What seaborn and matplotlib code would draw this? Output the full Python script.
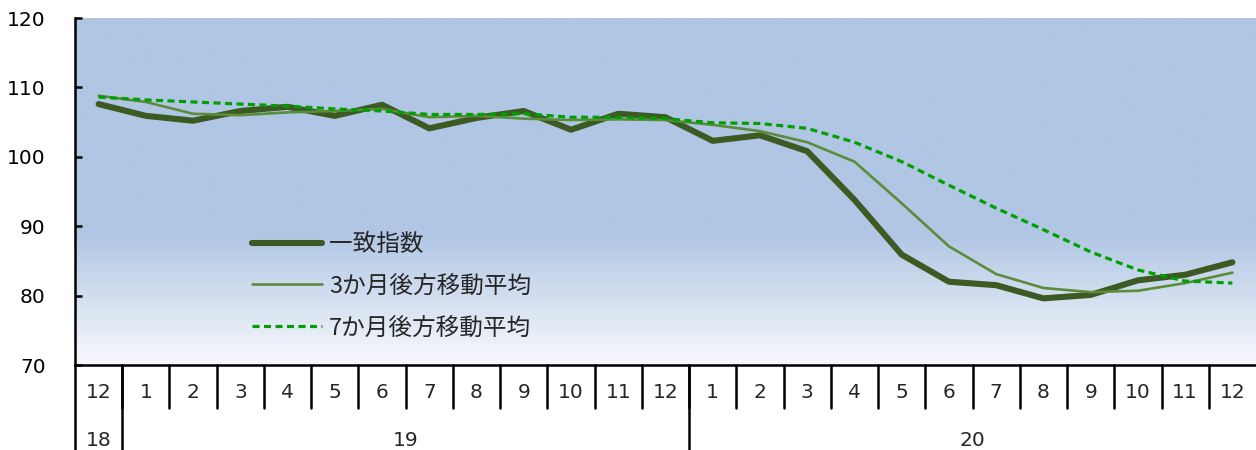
import numpy as np
import pandas as pd
import matplotlib
matplotlib.use("Agg")
import matplotlib.pyplot as plt
import matplotlib.transforms as mtransforms
from matplotlib.colors import LinearSegmentedColormap
import seaborn as sns

# ---------------------------------------------------------------------------
# data: 2018/12 .. 2020/12
# ---------------------------------------------------------------------------

monthL = ['12', '1', '2', '3', '4', '5', '6', '7', '8', '9', '10', '11', '12',
          '1', '2', '3', '4', '5', '6', '7', '8', '9', '10', '11', '12']
yearL = ['18', '19', '20']
yearSpan = [(0, 0), (1, 12), (13, 24)]

coincident = [107.6, 105.9, 105.2, 106.6, 107.2, 105.9, 107.5, 104.1, 105.6,
              106.6, 103.9, 106.2, 105.7, 102.3, 103.1, 100.8, 93.8, 85.9,
              82.0, 81.5, 79.6, 80.1, 82.2, 83.0, 84.8]
ma3 = [108.8, 107.9, 106.2, 106.0, 106.4, 106.6, 106.9, 105.7, 105.9, 105.5,
       105.3, 105.4, 105.3, 104.6, 103.7, 102.1, 99.3, 93.3, 87.1, 83.1,
       81.1, 80.5, 80.7, 81.8, 83.3]
ma7 = [108.6, 108.2, 107.9, 107.6, 107.3, 106.9, 106.6, 106.1, 106.1, 106.2,
       105.7, 105.7, 105.5, 104.9, 104.8, 104.1, 102.1, 99.3, 95.9, 92.6,
       89.5, 86.3, 83.7, 82.1, 81.8]

labelL = ['一致指数', '3か月後方移動平均', '7か月後方移動平均']

# ---------------------------------------------------------------------------

def main():
    sns.set_style('white')
    plt.rcParams['font.family'] = ['DejaVu Sans', 'Noto Sans CJK JP']
    plt.rcParams['font.size'] = 14

    dfrm = pd.DataFrame({'pos': np.arange(len(monthL)),
                         'coincident': coincident, 'ma3': ma3, 'ma7': ma7})

    fig = plt.figure(figsize=(12.56, 4.5), dpi=100)
    ax = fig.add_axes([75/1256, 1 - 365/450, 1181/1256, 347/450])

    # background gradient (blue -> white toward the bottom)
    cmap = LinearSegmentedColormap.from_list(
        'bg', [(0.0, '#b0c6e4'), (0.62, '#b0c6e4'), (1.0, '#f8f9fd')])
    grad = np.linspace(0, 1, 256).reshape(-1, 1)
    ax.imshow(grad, cmap=cmap, aspect='auto', extent=[0, 1, 0, 1],
              transform=ax.transAxes, zorder=0, interpolation='bicubic')

    sns.lineplot(data=dfrm, x='pos', y='coincident', ax=ax, color='#3c5a22',
                 lw=4.4, solid_capstyle='round', solid_joinstyle='round',
                 label=labelL[0], zorder=3)
    sns.lineplot(data=dfrm, x='pos', y='ma3', ax=ax, color='#5b8c3a',
                 lw=1.9, label=labelL[1], zorder=4)
    sns.lineplot(data=dfrm, x='pos', y='ma7', ax=ax, color='#00a000',
                 lw=2.3, dashes=(2.2, 1.4), label=labelL[2], zorder=5)

    ax.set_xlim(-0.5, len(monthL) - 0.5)
    ax.set_ylim(70, 120)
    ax.set_yticks(range(70, 121, 10))
    ax.set_xticks([])
    ax.set_xlabel('')
    ax.set_ylabel('')

    for s in ['top', 'right']:
        ax.spines[s].set_visible(False)
    for s in ['left', 'bottom']:
        ax.spines[s].set_color('black')
        ax.spines[s].set_linewidth(1.8)
    ax.tick_params(axis='y', direction='in', length=5, width=1.8,
                   left=True, pad=21, labelsize=14.5, colors='black')

    # two-level category axis
    trans = mtransforms.blended_transform_factory(ax.transData, ax.transAxes)
    m_bot = -43/347
    y_bot = -90/347
    for i, m in enumerate(monthL):
        ax.text(i, -27/347, m, transform=trans, ha='center', va='center',
                fontsize=14.5)
        if i > 0:
            ax.plot([i - 0.5, i - 0.5], [0, m_bot], transform=trans,
                    color='black', lw=1.8, clip_on=False)
    for (a, b), y in zip(yearSpan, yearL):
        ax.text((a + b) / 2, -75/347, y, transform=trans, ha='center',
                va='center', fontsize=14.5)
        ax.plot([a - 0.5, a - 0.5], [0, y_bot], transform=trans,
                color='black', lw=1.8, clip_on=False)

    leg = ax.legend(loc='upper left', bbox_to_anchor=(0.150, 0.381),
                    frameon=False, handlelength=2.95, handletextpad=0.3,
                    labelspacing=0.8, borderaxespad=0, borderpad=0,
                    prop={'family': ['Noto Sans CJK JP', 'DejaVu Sans'],
                          'size': 17})

    fig.savefig('out.png', dpi=100)


if (__name__ == "__main__"):
    main()
